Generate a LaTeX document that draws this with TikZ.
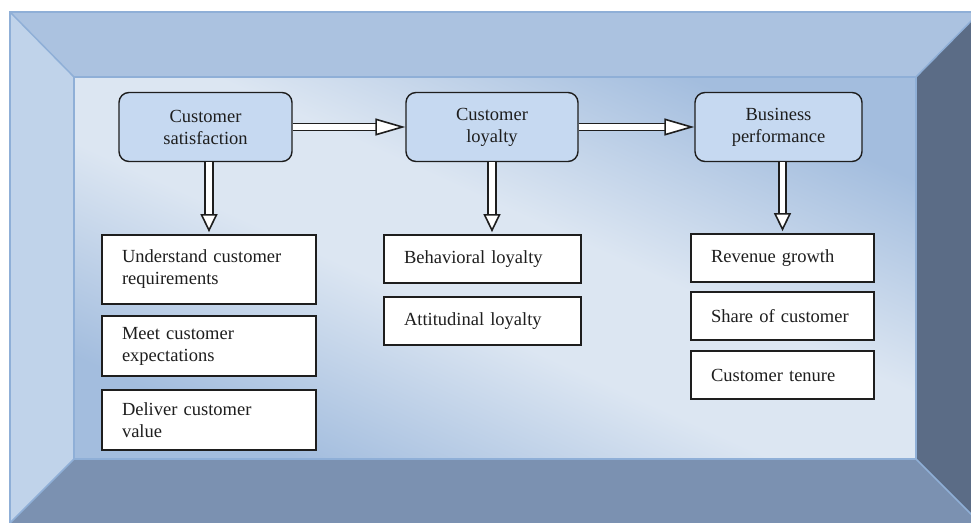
\documentclass[tikz,border=0pt]{standalone}
\usepackage{fontspec}
\setmainfont{Liberation Serif}
\usetikzlibrary{arrows.meta, positioning}
\definecolor{FrameTop}{RGB}{171, 194, 224}
\definecolor{FrameLeft}{RGB}{192, 211, 234}
\definecolor{FrameBottom}{RGB}{123, 145, 177}
\definecolor{FrameRight}{RGB}{91, 108, 134}
\definecolor{FrameSeam}{RGB}{143, 175, 215}
\definecolor{PanelLight}{RGB}{220, 230, 242}
\definecolor{PanelBlue}{RGB}{163, 189, 222}
\definecolor{StageFill}{RGB}{198, 217, 241}
\definecolor{InkDark}{RGB}{30, 30, 30}
\pgfdeclareverticalshading{panelglow}{100bp}{color(0bp)=(PanelBlue); color(24bp)=(PanelBlue);
  color(44bp)=(PanelLight); color(56bp)=(PanelLight); color(76bp)=(PanelBlue); color(100bp)=(PanelBlue)}

\tikzset{
  stage/.style={rounded corners=10pt, fill=StageFill, draw=InkDark, line width=1.4pt,
                minimum width=172pt, minimum height=69pt, align=center,
                font=\fontsize{18.5}{22}\selectfont, text=InkDark},
  item/.style={fill=white, draw=InkDark, line width=1.8pt, inner xsep=20pt, inner ysep=0pt,
               align=left, font=\fontsize{18.5}{22}\selectfont, text=InkDark},
  flowarrow/.style={draw=InkDark, double=white, double distance=5.4pt, line width=1.7pt,
                    -{Triangle[open, fill=white, line width=1.6pt, length=30pt, width=17pt]}},
  downarrow/.style={draw=InkDark, double=white, double distance=5.8pt, line width=1.7pt,
                    -{Triangle[open, fill=white, line width=1.6pt, length=18pt, width=17pt]}}
}

\begin{document}
\begin{tikzpicture}[x=1pt, y=-1pt]
    \useasboundingbox (0,0) rectangle (971,522);
    \clip (0,0) rectangle (971,522);
    \fill[white] (0,0) rectangle (971,522);
    % bevelled frame
    \coordinate (o1) at (10,12);  \coordinate (o2) at (980,12);
    \coordinate (o3) at (980,523); \coordinate (o4) at (10,523);
    \coordinate (i1) at (74,77);  \coordinate (i2) at (916,77);
    \coordinate (i3) at (916,459); \coordinate (i4) at (74,459);
    \fill[FrameTop] (o1) -- (o2) -- (i2) -- (i1) -- cycle;
    \fill[FrameRight] (o2) -- (o3) -- (i3) -- (i2) -- cycle;
    \fill[FrameBottom] (i4) -- (i3) -- (o3) -- (o4) -- cycle;
    \fill[FrameLeft] (o1) -- (i1) -- (i4) -- (o4) -- cycle;
    % panel: square shading stretched so the light band runs corner to corner
    \shade[transform canvas={shift={(i1)}, xscale=2.2042}, shading=panelglow, shading angle=-45]
        (0,0) rectangle (382,382);
    \draw[FrameSeam, line width=1.5pt] (o4) -- (o1) -- (o2);
    \draw[FrameSeam, line width=1.5pt] (i1) rectangle (i3);
    \draw[FrameSeam, line width=1.5pt] (o1) -- (i1) (o2) -- (i2) (o3) -- (i3) (o4) -- (i4);

    % stages
    \node[stage, minimum width=173pt] (sat) at (205.5,127) {Customer\\satisfaction};
    \node[stage] (loy) at (492,127) {Customer\\loyalty};
    \node[stage, minimum width=167pt] (perf) at (778.5,127) {Business\\performance};

    % items below each stage
    \node[item, text width=174pt, minimum height=69pt] (sat1) at (209,269.5) {Understand customer\\requirements};
    \node[item, text width=174pt, minimum height=60pt] (sat2) at (209,346) {Meet customer\\expectations};
    \node[item, text width=174pt, minimum height=60pt] (sat3) at (209,420) {Deliver customer\\value};
    \node[item, text width=157pt, minimum height=48pt] (loy1) at (482.5,259) {Behavioral loyalty};
    \node[item, text width=157pt, minimum height=48pt] (loy2) at (482.5,321) {Attitudinal loyalty};
    \node[item, text width=143pt, minimum height=48pt] (perf1) at (782.5,258) {Revenue growth};
    \node[item, text width=143pt, minimum height=48pt] (perf2) at (782.5,316) {Share of customer};
    \node[item, text width=143pt, minimum height=48pt] (perf3) at (782.5,375) {Customer tenure};

    % arrows
    \draw[flowarrow] (sat.east) -- (loy.west);
    \draw[flowarrow] (loy.east) -- (perf.west);
    \draw[downarrow, shorten >=2pt] (sat1.north |- sat.south) -- (sat1.north);
    \draw[downarrow, shorten >=2pt] (loy.south) -- (loy.south |- loy1.north);
    \draw[downarrow, shorten >=2pt] (perf1.north |- perf.south) -- (perf1.north);
\end{tikzpicture}
\end{document}
